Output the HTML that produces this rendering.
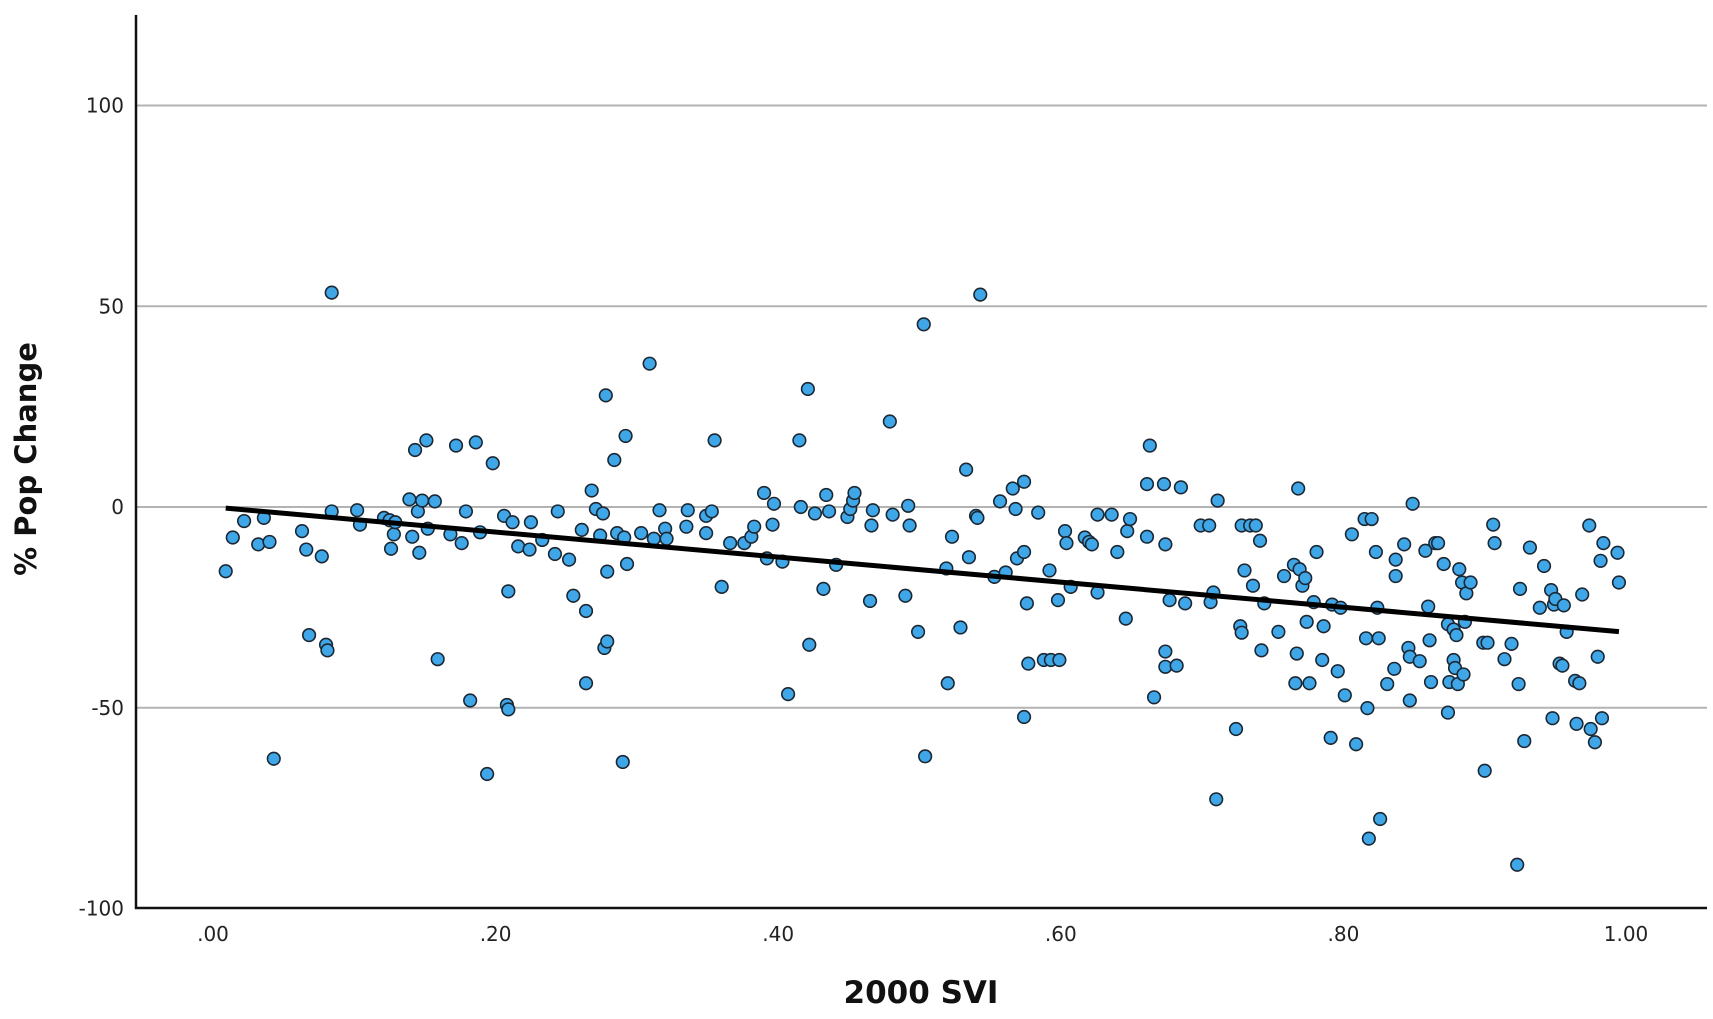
<!DOCTYPE html>
<html><head><meta charset="utf-8"><style>
html,body{margin:0;padding:0;background:#fff;}
svg{display:block;}
text{font-family:"DejaVu Sans","Liberation Sans",sans-serif;}
</style></head><body>
<svg id="chart" width="1713" height="1019" viewBox="0 0 1713 1019" xmlns="http://www.w3.org/2000/svg">
<rect x="0" y="0" width="1713" height="1019" fill="#fff"/>
<g id="grid"></g>
<g id="yticks"></g>
<g id="xticks"></g>
<g id="points"></g>
<g id="fit"></g>
<line x1="136" y1="15" x2="136" y2="909" stroke="#111" stroke-width="2.5"/>
<line x1="135" y1="908" x2="1707" y2="908" stroke="#111" stroke-width="2.5"/>
<text x="36" y="459" transform="rotate(-90 36 459)" text-anchor="middle" font-size="29" font-weight="bold" fill="#111">% Pop Change</text>
<text x="921" y="1003" text-anchor="middle" font-size="31" font-weight="bold" fill="#111">2000 SVI</text>
</svg>
<script>
const xTickVals=[0,0.2,0.4,0.6,0.8,1.0];
const xTickLabels=[".00",".20",".40",".60",".80","1.00"];
const yTickVals=[-100,-50,0,50,100];
const yTickLabels=["-100","-50","0","50","100"];
const fitIntercept=0.0;
const fitSlope=-31.2;
const fitRange=[0.009,0.995];
const svi=[0.009,0.014,0.022,0.032,0.036,0.040,0.043,0.063,0.066,0.068,0.077,0.080,0.081,0.084,0.084,0.102,0.104,0.121,0.125,0.126,0.128,0.129,0.139,0.141,0.143,0.145,0.146,0.148,0.151,0.152,0.157,0.159,0.168,0.172,0.176,0.179,0.182,0.186,0.189,0.194,0.198,0.206,0.208,0.209,0.209,0.212,0.216,0.224,0.225,0.233,0.242,0.244,0.252,0.255,0.261,0.264,0.264,0.268,0.271,0.274,0.276,0.278,0.277,0.279,0.279,0.284,0.286,0.290,0.292,0.293,0.291,0.303,0.309,0.312,0.316,0.320,0.321,0.335,0.336,0.349,0.349,0.353,0.355,0.360,0.366,0.376,0.381,0.383,0.390,0.392,0.396,0.397,0.403,0.407,0.415,0.416,0.421,0.422,0.426,0.432,0.434,0.436,0.441,0.449,0.451,0.453,0.454,0.465,0.466,0.467,0.479,0.481,0.490,0.492,0.493,0.499,0.503,0.504,0.519,0.520,0.523,0.529,0.533,0.535,0.540,0.541,0.543,0.553,0.557,0.561,0.566,0.568,0.569,0.574,0.574,0.574,0.576,0.577,0.584,0.588,0.592,0.593,0.598,0.599,0.603,0.604,0.607,0.617,0.620,0.622,0.626,0.626,0.636,0.640,0.646,0.647,0.649,0.661,0.661,0.663,0.666,0.673,0.674,0.674,0.674,0.677,0.682,0.685,0.688,0.699,0.705,0.706,0.708,0.710,0.711,0.724,0.727,0.728,0.728,0.730,0.734,0.736,0.738,0.741,0.742,0.744,0.754,0.758,0.765,0.766,0.767,0.768,0.769,0.771,0.773,0.774,0.776,0.779,0.781,0.785,0.786,0.791,0.792,0.796,0.798,0.801,0.806,0.809,0.815,0.816,0.817,0.818,0.820,0.823,0.824,0.825,0.826,0.831,0.836,0.837,0.837,0.843,0.846,0.847,0.847,0.849,0.854,0.858,0.860,0.861,0.862,0.865,0.867,0.871,0.874,0.874,0.875,0.878,0.878,0.879,0.880,0.881,0.882,0.884,0.885,0.886,0.887,0.890,0.899,0.900,0.902,0.906,0.907,0.914,0.919,0.924,0.923,0.925,0.928,0.932,0.939,0.942,0.947,0.948,0.949,0.950,0.953,0.955,0.956,0.958,0.964,0.965,0.967,0.969,0.974,0.975,0.978,0.980,0.982,0.983,0.984,0.994,0.995];
const popChange=[-16,-7.6,-3.5,-9.3,-2.7,-8.7,-62.7,-6,-10.6,-31.9,-12.3,-34.3,-35.7,53.4,-1.1,-0.8,-4.4,-2.7,-3.3,-10.4,-6.8,-3.8,1.9,-7.4,14.2,-1.1,-11.4,1.6,16.6,-5.4,1.4,-37.9,-6.8,15.3,-9,-1.1,-48.2,16.1,-6.3,-66.5,10.9,-2.2,-49.3,-50.4,-21,-3.8,-9.8,-10.6,-3.8,-8.2,-11.7,-1.1,-13.1,-22.1,-5.7,-25.9,-43.9,4.1,-0.5,-7.1,-1.6,27.8,-35.1,-33.5,-16.1,11.7,-6.5,-63.5,17.7,-14.2,-7.6,-6.5,35.7,-7.9,-0.8,-5.4,-7.9,-4.9,-0.8,-6.5,-2.2,-1.1,16.6,-19.9,-9,-9,-7.4,-4.9,3.5,-12.8,-4.4,0.8,-13.6,-46.6,16.6,0,29.4,-34.3,-1.6,-20.4,3,-1.1,-14.4,-2.5,-0.5,1.6,3.5,-23.4,-4.6,-0.8,21.3,-1.9,-22.1,0.3,-4.6,-31.1,45.5,-62.1,-15.3,-43.9,-7.4,-30,9.3,-12.5,-2.2,-2.7,52.9,-17.4,1.4,-16.3,4.6,-0.5,-12.8,6.3,-11.2,-52.3,-24,-39,-1.4,-38.1,-15.8,-38.1,-23.2,-38.1,-6,-9,-19.9,-7.6,-8.7,-9.3,-21.3,-1.9,-1.9,-11.2,-27.8,-6,-3,-7.4,5.7,15.3,-47.4,5.7,-9.3,-36,-39.8,-23.2,-39.5,4.9,-24,-4.6,-4.6,-23.7,-21.3,-72.8,1.6,-55.3,-29.7,-31.3,-4.6,-15.8,-4.6,-19.6,-4.6,-8.4,-35.7,-24,-31.1,-17.2,-14.4,-43.9,-36.5,4.6,-15.5,-19.6,-17.7,-28.6,-43.9,-23.7,-11.2,-38.1,-29.7,-57.5,-24.3,-40.9,-25.1,-46.9,-6.8,-59.1,-3,-32.7,-50.1,-82.6,-3,-11.2,-25.1,-32.7,-77.7,-44.1,-40.3,-13.1,-17.2,-9.3,-35.1,-37.3,-48.2,0.8,-38.4,-10.9,-24.8,-33.2,-43.6,-9,-9,-14.2,-51.2,-29.2,-43.6,-30.5,-38.1,-40.1,-31.9,-44.1,-15.5,-18.8,-41.7,-28.6,-21.5,-18.8,-33.8,-65.7,-33.8,-4.4,-9,-37.9,-34.1,-44.1,-89.1,-20.4,-58.3,-10.1,-25.1,-14.7,-20.7,-52.6,-24.3,-22.9,-39,-39.5,-24.5,-31.1,-43.3,-54,-43.9,-21.8,-4.6,-55.3,-58.6,-37.3,-13.4,-52.6,-9,-11.4,-18.8];

const NS="http://www.w3.org/2000/svg";
function xs(v){return 213+v*1413;}
function ys(v){return 507-v*4.015;}
function mk(tag,attrs,parent){const e=document.createElementNS(NS,tag);for(const k in attrs)e.setAttribute(k,attrs[k]);parent.appendChild(e);return e;}

const grid=document.getElementById('grid');
const yt=document.getElementById('yticks');
yTickVals.forEach((v,i)=>{
  if(v>-100){
    const l=mk('line',{x1:137,x2:1707,y1:ys(v),y2:ys(v),stroke:'#b3b3b3','stroke-width':2},grid);
    
    
  }
  const t=mk('text',{x:124,y:ys(v)+7,'text-anchor':'end','font-size':20,fill:'#222'},yt);
  t.textContent=yTickLabels[i];
  
  
});
const xt=document.getElementById('xticks');
xTickVals.forEach((v,i)=>{
  const t=mk('text',{x:xs(v),y:941,'text-anchor':'middle','font-size':20,fill:'#222'},xt);
  t.textContent=xTickLabels[i];
  
  
});
const pg=document.getElementById('points');
svi.forEach((v,i)=>{
  const c=mk('circle',{cx:xs(v),cy:ys(popChange[i]),r:6.3,fill:'#3fa7e8',stroke:'#1b2733','stroke-width':1.6},pg);
  
  
});
const fg=document.getElementById('fit');
const fl=mk('line',{x1:xs(fitRange[0]),y1:ys(fitIntercept+fitSlope*fitRange[0]),x2:xs(fitRange[1]),y2:ys(fitIntercept+fitSlope*fitRange[1]),stroke:'#000','stroke-width':5},fg);


</script>
</body></html>
